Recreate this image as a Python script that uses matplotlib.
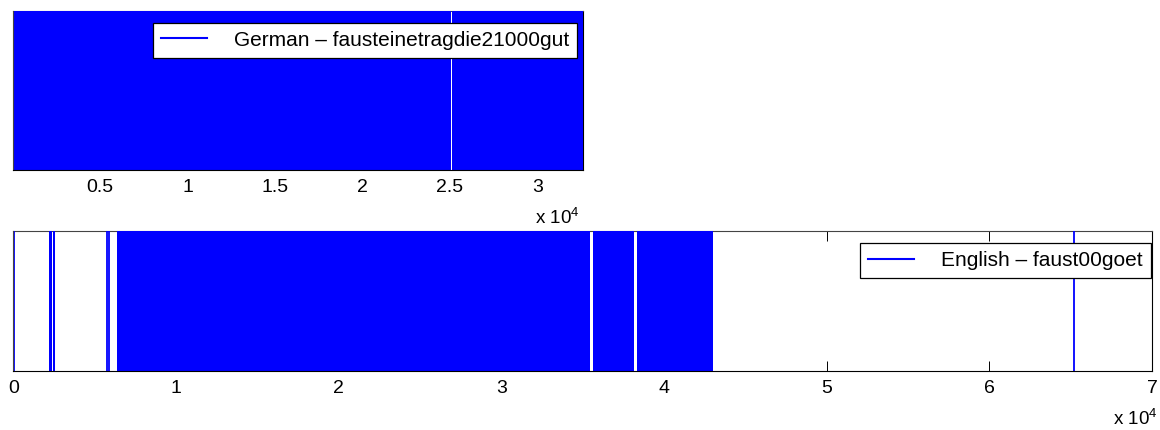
import numpy as np
import matplotlib
matplotlib.use('Agg')
import matplotlib.pyplot as plt
from matplotlib.lines import Line2D

plt.rcParams['font.family'] = ['Liberation Sans', 'DejaVu Sans']

# German text: dense runs of hits (word offsets), as start/end pairs
german_run_start = np.array([50, 25115])
german_run_end = np.array([25030, 32615])
german_hits = np.array([])
german_ticks = [5000, 10000, 15000, 20000, 25000, 30000]
german_label = 'German \u2013 fausteinetragdie21000gut'

# English text
english_run_start = np.array([2200, 2420, 6380, 35660, 38370])
english_run_end = np.array([2370, 2570, 35460, 38160, 43040])
english_hits = np.array([60, 5790, 5870, 65180])
english_xlim = (0, 70000)
english_ticks = [0, 10000, 20000, 30000, 40000, 50000, 60000, 70000]
english_label = 'English \u2013 faust00goet'

W, H = 1160, 430
fig = plt.figure(figsize=(W / 100, H / 100), dpi=100)

ax1 = fig.add_axes([13.3 / W, (H - 170) / H, 570 / W, 159 / H])
ax2 = fig.add_axes([13.3 / W, (H - 370.7) / H, 1138.7 / W, 139.7 / H])


def draw_panel(ax, run_start, run_end, hits, xlim, ticks, label, leg_xy, off_xy):
    runs = list(zip(run_start, run_end - run_start))
    ax.broken_barh(runs, (0, 1), facecolors='blue', edgecolor='none', zorder=1)
    if len(hits):
        ax.vlines(hits, 0, 1, colors='blue', linewidth=1.3, zorder=1)
    ax.set_xlim(xlim)
    ax.set_ylim(0, 1)
    ax.set_yticks([])
    ax.set_xticks(ticks)
    ax.set_xticklabels(['%g' % (t / 1e4) for t in ticks])
    ax.tick_params(axis='x', direction='in', length=7.2, width=0.7,
                   top=True, labelsize=14, pad=6.5, colors='black')
    ax.set_axisbelow(True)
    for side in ['top', 'right']:
        ax.spines[side].set_zorder(0.6)
    for side in ['bottom', 'left']:
        ax.spines[side].set_zorder(3)
    for sp in ax.spines.values():
        sp.set_linewidth(0.8)
        sp.set_color('black')
    ax.spines['left'].set_color('#444444')
    ax.spines['top'].set_color('#444444')

    handle = Line2D([], [], color='blue', linewidth=1.5)
    leg = ax.legend([handle], [label], loc='upper right',
                    bbox_to_anchor=(leg_xy[0] / W, 1 - leg_xy[1] / H),
                    bbox_transform=fig.transFigure, borderaxespad=0,
                    fontsize=15, handlelength=2.2, handletextpad=1.3,
                    borderpad=0.38, fancybox=False, framealpha=1)
    leg.get_frame().set_edgecolor('black')
    leg.get_frame().set_linewidth(0.9)
    leg.set_zorder(5)

    fig.text(off_xy[0] / W, 1 - off_xy[1] / H, r'x 10$\mathregular{^{4}}$',
             ha='right', va='center', fontsize=13.5)


draw_panel(ax1, german_run_start, german_run_end, german_hits,
           (german_run_start.min(), german_run_end.max()), german_ticks,
           german_label, (577, 22.7), (580, 218))
draw_panel(ax2, english_run_start, english_run_end, english_hits,
           english_xlim, english_ticks, english_label, (1150.7, 243.3), (1158, 419))

fig.savefig('out.png', dpi=100)
